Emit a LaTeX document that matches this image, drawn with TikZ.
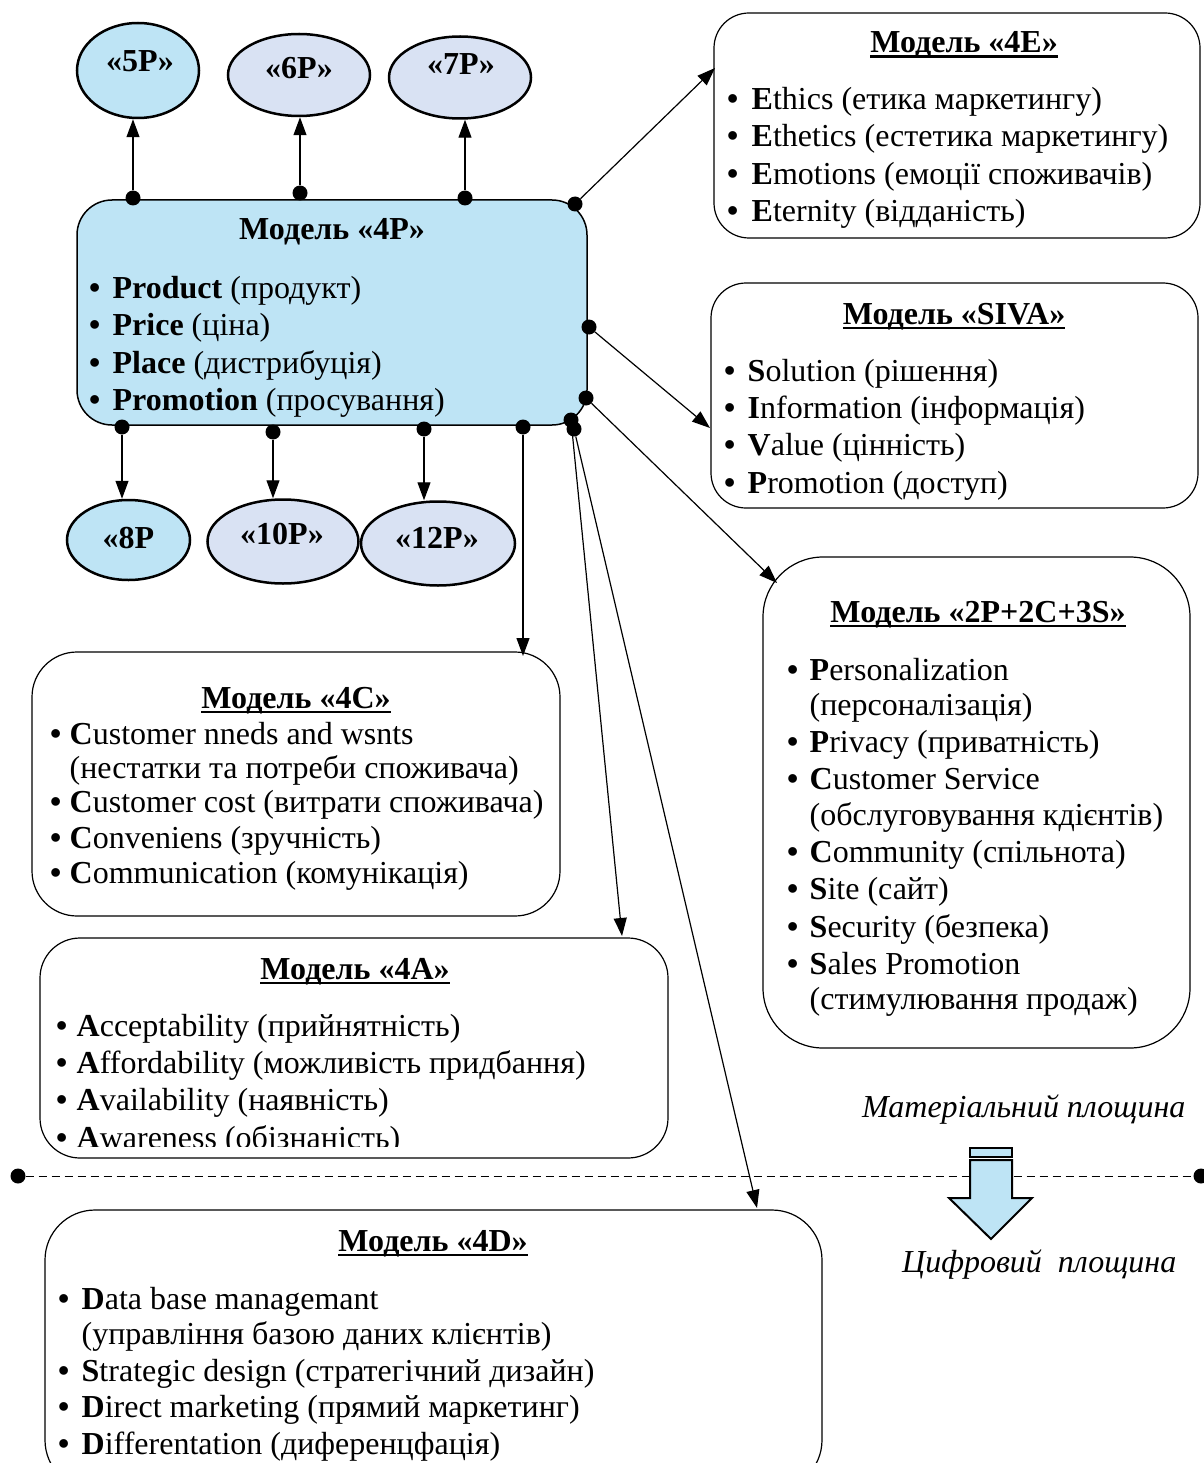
\documentclass[tikz,border=0pt]{standalone}
\usepackage{fontspec}
\setmainfont{Liberation Serif}
\usetikzlibrary{arrows.meta,shapes.geometric}
\definecolor{pblue}{RGB}{190,228,245}
\definecolor{plav}{RGB}{217,226,243}
\newlength{\bulw}
\newcommand{\bul}{\makebox[\bulw][l]{\textbf{•}}}
\newcommand{\ind}{\hspace*{\bulw}}
\newcommand{\undl}[1]{\setbox0\hbox{#1}\rlap{\rule[-5pt]{\wd0}{2.5pt}}\box0}
\tikzset{
  txt/.style={font=\fontsize{32}{37}\selectfont, inner sep=0pt},
  item/.style={txt, anchor=base west},
  ttl/.style={inner sep=0pt, anchor=base, font=\fontsize{32}{37}\selectfont\bfseries},
  model/.style={draw, line width=1.2pt, rounded corners=#1, inner sep=0pt},
  oval/.style={draw, ellipse, line width=2.5pt, inner sep=0pt},
  dot/.style={circle, fill=black, inner sep=0pt, minimum size=15pt},
  link/.style={line width=1.2pt, -{Triangle[length=18pt,width=13pt]}},
}

\begin{document}
\begin{tikzpicture}[x=1pt,y=-1pt]
\useasboundingbox (0,0) rectangle (1203,1463);
%
% model boxes
\node[model=35pt, fill=pblue, line width=1.5pt, minimum width=510pt, minimum height=225pt] (m4p) at (332,312.5) {};
\node[model=35pt, minimum width=486pt, minimum height=225pt] (m4e) at (957,125.5) {};
\node[model=35pt, minimum width=487pt, minimum height=225pt] (msiva) at (954.5,395.5) {};
\node[model=60pt, minimum width=427pt, minimum height=491pt] (m2p) at (976.5,802.5) {};
\node[model=45pt, minimum width=528pt, minimum height=264pt] (m4c) at (296,784) {};
\node[model=40pt, minimum width=628pt, minimum height=220pt] (m4a) at (354,1048) {};
\node[model=50pt, minimum width=777pt, minimum height=280pt] (m4d) at (433.5,1350) {};
%
% ovals
\node[oval, fill=pblue, minimum width=122pt, minimum height=95pt] (o5) at (138,70.5) {};
\node[oval, fill=plav, minimum width=142pt, minimum height=82pt] (o6) at (299,75) {};
\node[oval, fill=plav, minimum width=142pt, minimum height=82pt] (o7) at (460,77.5) {};
\node[oval, fill=pblue, minimum width=123pt, minimum height=80pt] (o8) at (128.5,540) {};
\node[oval, fill=plav, minimum width=151pt, minimum height=84pt] (o10) at (283,541.5) {};
\node[oval, fill=plav, minimum width=154pt, minimum height=84pt] (o12) at (438,543.5) {};
\node[ttl] (l5) at (140,72) {«5P»};
\node[ttl] (l6) at (299,79) {«6P»};
\node[ttl] (l7) at (461,75) {«7P»};
\node[ttl] (l8) at (128.5,548) {«8P};
\node[ttl] (l10) at (282,544) {«10P»};
\node[ttl] (l12) at (437,548) {«12P»};
%
% titles
\node[ttl] (t4p) at (332,240) {Модель «4P»};
\node[ttl] (t4e) at (964,53) {\undl{Модель «4E»}};
\node[ttl] (tsiva) at (954,324) {\undl{Модель «SIVA»}};
\node[ttl] (t2p) at (978,622) {\undl{Модель «2P+2C+3S»}};
\node[ttl] (t4c) at (296,708) {\undl{Модель «4C»}};
\node[ttl] (t4a) at (355,979) {\undl{Модель «4A»}};
\node[ttl] (t4d) at (433,1251) {\undl{Модель «4D»}};
%
% items
\setlength{\bulw}{23.5pt}
\foreach \y/\txt [count=\i] in {298/{\bul\textbf{Product} (продукт)},
  335/{\bul\textbf{Price} (ціна)}, 373/{\bul\textbf{Place} (дистрибуція)},
  410/{\bul\textbf{Promotion} (просування)}}
  \node[item] (i4p-\i) at (89,\y) {\txt};
\setlength{\bulw}{24.5pt}
\foreach \y/\txt [count=\i] in {110/{\bul\textbf{E}thics (етика маркетингу)},
  147/{\bul\textbf{E}thetics (естетика маркетингу)},
  185/{\bul\textbf{E}motions (емоції споживачів)},
  222/{\bul\textbf{E}ternity (відданість)}}
  \node[item] (i4e-\i) at (727,\y) {\txt};
\setlength{\bulw}{23.5pt}
\foreach \y/\txt [count=\i] in {381/{\bul\textbf{S}olution (рішення)},
  418/{\bul\textbf{I}nformation (інформація)},
  455/{\bul\textbf{V}alue (цінність)},
  493/{\bul\textbf{P}romotion (доступ)}}
  \node[item] (isiva-\i) at (724,\y) {\txt};
\setlength{\bulw}{22.5pt}
\foreach \y/\txt [count=\i] in {680/{\bul\textbf{P}ersonalization},
  715/{\ind(персоналізація)}, 752/{\bul\textbf{P}rivacy (приватність)},
  789/{\bul\textbf{C}ustomer Service}, 825/{\ind(обслуговування кдієнтів)},
  862/{\bul\textbf{C}ommunity (спільнота)}, 899/{\bul\textbf{S}ite (сайт)},
  937/{\bul\textbf{S}ecurity (безпека)}, 974/{\bul\textbf{S}ales Promotion},
  1009/{\ind(стимулювання продаж)}}
  \node[item] (i2p-\i) at (787,\y) {\txt};
\setlength{\bulw}{19.5pt}
\foreach \y/\txt [count=\i] in {744/{\bul\textbf{C}ustomer nneds and wsnts},
  778/{\ind(нестатки та потреби споживача)},
  812/{\bul\textbf{C}ustomer cost (витрати споживача)},
  848/{\bul\textbf{C}onveniens (зручність)},
  883/{\bul\textbf{C}ommunication (комунікація)}}
  \node[item] (i4c-\i) at (50,\y) {\txt};
\setlength{\bulw}{20.5pt}
\begin{scope}
\clip (40,938) rectangle (668,1146);
\foreach \y/\txt [count=\i] in {1036/{\bul\textbf{A}cceptability (прийнятність)},
  1073/{\bul\textbf{A}ffordability (можливість придбання)},
  1110/{\bul\textbf{A}vailability (наявність)},
  1148/{\bul\textbf{A}wareness (обізнаність)}}
  \node[item] (i4a-\i) at (56,\y) {\txt};
\end{scope}
\setlength{\bulw}{23.5pt}
\foreach \y/\txt [count=\i] in {1309/{\bul\textbf{D}ata base managemant},
  1344/{\ind(управління базою даних клієнтів)},
  1381/{\bul\textbf{S}trategic design (стратегічний дизайн)},
  1417/{\bul\textbf{D}irect marketing (прямий маркетинг)},
  1454/{\bul\textbf{D}ifferentation (диференцфація)}}
  \node[item] (i4d-\i) at (58,\y) {\txt};
%
% dots on the 4P box
\node[dot] (p5) at (133,198) {};
\node[dot] (p6) at (300,193) {};
\node[dot] (p7) at (465,198) {};
\node[dot] (pe) at (575,204) {};
\node[dot] (ps) at (589,327) {};
\node[dot] (p2) at (586,398) {};
\node[dot] (pa) at (571,420) {};
\node[dot] (pd) at (574,429) {};
\node[dot] (p8) at (122,427) {};
\node[dot] (p10) at (273,432) {};
\node[dot] (p12) at (424,429) {};
\node[dot] (pc) at (523,427) {};
%
% arrow ends on the boxes
\coordinate (ae) at (715,68);
\coordinate (as) at (710,428);
\coordinate (a2) at (777,583);
\coordinate (aa) at (622,936);
\coordinate (ad) at (757,1208);
\coordinate (ac) at (523,656);
%
\draw[link] (p5) -- (p5 |- o5.south);
\draw[link] (p6) -- (p6 |- o6.south);
\draw[link] (p7) -- (p7 |- o7.south);
\draw[link] (p8) -- (p8 |- o8.north);
\draw[link] (p10) -- (p10 |- o10.north);
\draw[link] (p12) -- (p12 |- o12.north);
\draw[link] (pe) -- (ae);
\draw[link] (ps) -- (as);
\draw[link] (p2) -- (a2);
\draw[link] (pa) -- (aa);
\draw[link] (pd) -- (ad);
\draw[link] (pc) -- (ac);
%
% border between the planes
\node[dot] (hl) at (18,1176) {};
\node[dot] (hr) at (1201,1176) {};
\draw[line width=1pt, dash pattern=on 8pt off 5pt] (hl) -- (hr);
%
\draw[fill=pblue, line width=2pt] (970,1160) -- (970,1198) -- (949,1198) -- (991,1239)
  -- (1032,1198) -- (1012,1198) -- (1012,1160) -- cycle;
\draw[fill=pblue, line width=1.5pt] (970,1148) rectangle (1012,1157);
\draw[line width=2.5pt] (970,1148) -- (1012,1148);
%
\node[txt, anchor=base west, font=\fontsize{32}{37}\selectfont\itshape] (mat) at (862,1117) {Матеріальний площина};
\node[txt, anchor=base west, font=\fontsize{32}{37}\selectfont\itshape] (dig) at (902,1272) {Цифровий~ площина};
\end{tikzpicture}
\end{document}
